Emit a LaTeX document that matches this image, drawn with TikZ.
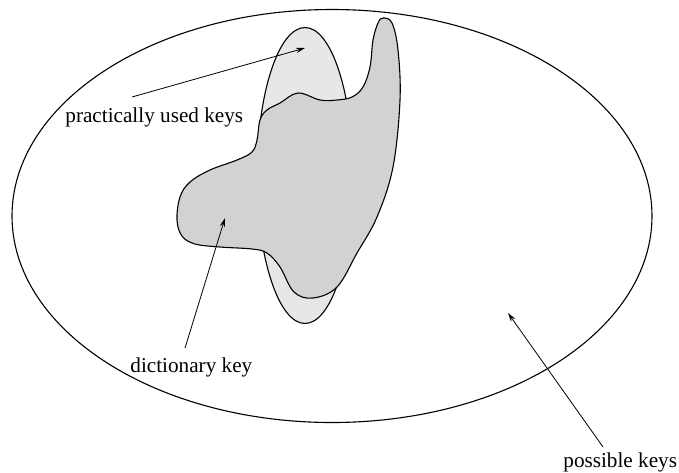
\documentclass[tikz,border=0pt]{standalone}
\usepackage{fontspec}
\setmainfont{Liberation Serif}
\usetikzlibrary{arrows.meta}
\definecolor{lightkey}{HTML}{E6E7E8}
\definecolor{darkkey}{HTML}{D1D2D4}
\tikzset{
  outline/.style={draw=black, line width=0.55pt},
  pointer/.style={draw=black, line width=0.4pt, -{Stealth[length=4.5pt,width=2.6pt]}},
  lbl/.style={inner sep=0pt, anchor=base west, font=\fontsize{10.6}{12}\selectfont},
}
\begin{document}
\begin{tikzpicture}[x=0.5pt,y=-0.5pt]
\useasboundingbox (0,0) rectangle (679,472);
% outer set
\draw[outline] (332,216) ellipse [x radius=320, y radius=206.5];
% practically used keys
\draw[outline, fill=lightkey] (305,175.5) ellipse [x radius=48, y radius=148];
% dictionary keys
\draw[outline, fill=darkkey] plot[smooth cycle, tension=0.6] coordinates {
 (383,18) (392,23) (398,50) (400,100) (393,167) (377,217) (357,253) (337,287)
 (313,298) (294,292) (280,267) (267,253) (252,249) (220,247) (195,244) (182,236)
 (177,220) (180,197) (190,182) (210,170) (237,160) (252,152) (257,140) (260,120)
 (267,110) (280,103) (298,93) (320,100) (337,100) (352,97) (363,87) (370,67)
 (373,40) (378,23)};
% labels
\node[lbl] (pu) at (65,122) {practically used keys};
\node[lbl] (dk) at (130,372) {dictionary key};
\node[lbl] (pk) at (563,467) {possible keys};
\coordinate (puS) at (132,97);
\coordinate (puT) at (305,48);
\coordinate (dkS) at (185,348);
\coordinate (dkT) at (225,218);
\coordinate (pkS) at (603,447);
\coordinate (pkT) at (508,313);
\draw[pointer] (puS) -- (puT);
\draw[pointer] (dkS) -- (dkT);
\draw[pointer] (pkS) -- (pkT);
\end{tikzpicture}
\end{document}
